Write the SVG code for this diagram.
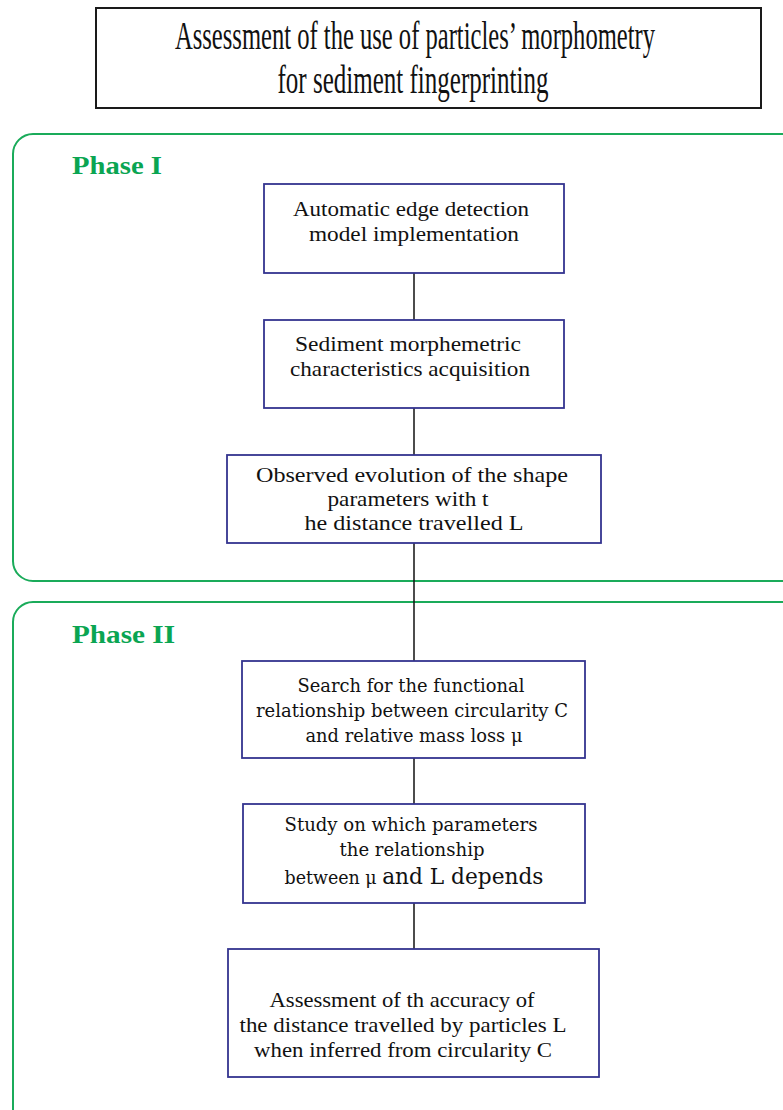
<svg xmlns="http://www.w3.org/2000/svg" width="783" height="1110" viewBox="0 0 783 1110">
<style>
.panel{fill:none;stroke:#1aab5a;stroke-width:2}
.box{fill:#fff;stroke:#34348f;stroke-width:1.8}
.tbox{fill:#fff;stroke:#1a1a1a;stroke-width:2}
.phase{font-family:"Liberation Serif",serif;font-weight:bold;font-size:25px;fill:#0aa552}
.t{font-family:"Liberation Serif",serif;font-size:21px;fill:#111;text-anchor:middle}
.g{font-family:"DejaVu Serif",serif;font-size:18.5px;fill:#111;text-anchor:middle}
.big{font-size:23px}
.title{font-family:"Liberation Serif",serif;font-size:29px;fill:#111;text-anchor:middle}
.conn{stroke:#111;stroke-width:1.5;fill:none}
</style>
<rect width="783" height="1110" fill="#fff"/>
<g id="title">
<rect class="tbox" x="96" y="8" width="665" height="100"/>
<g transform="scale(1,1.35)">
<text class="title" x="415" y="36.3" textLength="480" lengthAdjust="spacingAndGlyphs">Assessment of the use of particles’ morphometry</text>
<text class="title" x="413" y="68.9" textLength="271" lengthAdjust="spacingAndGlyphs">for sediment fingerprinting</text>
</g>
</g>
<g id="phase1">
<rect class="panel" x="13" y="134" width="800" height="447" rx="20"/>
<text class="phase" x="72" y="174" textLength="90" lengthAdjust="spacingAndGlyphs">Phase I</text>
</g>
<g id="phase2">
<rect class="panel" x="13" y="602" width="800" height="560" rx="20"/>
<text class="phase" x="72" y="643" textLength="103" lengthAdjust="spacingAndGlyphs">Phase II</text>
</g>
<g id="connectors">
<line class="conn" x1="414" y1="273" x2="414" y2="320"/>
<line class="conn" x1="414" y1="408" x2="414" y2="455"/>
<line class="conn" x1="414" y1="543" x2="414" y2="661"/>
<line class="conn" x1="414" y1="758" x2="414" y2="804"/>
<line class="conn" x1="414" y1="903" x2="414" y2="949"/>
</g>
<g id="n1">
<rect class="box" x="264" y="184" width="300" height="89"/>
<text class="t" x="411" y="216" textLength="236" lengthAdjust="spacingAndGlyphs">Automatic edge detection</text>
<text class="t" x="414" y="241" textLength="210" lengthAdjust="spacingAndGlyphs">model implementation</text>
</g>
<g id="n2">
<rect class="box" x="264" y="320" width="300" height="88"/>
<text class="t" x="408" y="351" textLength="226" lengthAdjust="spacingAndGlyphs">Sediment morphemetric</text>
<text class="t" x="410" y="376" textLength="240" lengthAdjust="spacingAndGlyphs">characteristics acquisition</text>
</g>
<g id="n3">
<rect class="box" x="227" y="455" width="374" height="88"/>
<text class="t" x="412" y="482" textLength="312" lengthAdjust="spacingAndGlyphs">Observed evolution of the shape</text>
<text class="t" x="408" y="506" textLength="161" lengthAdjust="spacingAndGlyphs">parameters with t</text>
<text class="t" x="414" y="530" textLength="219" lengthAdjust="spacingAndGlyphs">he distance travelled L</text>
</g>
<g id="n4">
<rect class="box" x="242" y="661" width="343" height="97"/>
<text class="g" x="411" y="692" textLength="227" lengthAdjust="spacingAndGlyphs">Search for the functional</text>
<text class="g" x="412" y="717" textLength="312" lengthAdjust="spacingAndGlyphs">relationship between circularity C</text>
<text class="g" x="414" y="742" textLength="217" lengthAdjust="spacingAndGlyphs">and relative mass loss μ</text>
</g>
<g id="n5">
<rect class="box" x="243" y="804" width="342" height="99"/>
<text class="g" x="411" y="831" textLength="253" lengthAdjust="spacingAndGlyphs">Study on which parameters</text>
<text class="g" x="412" y="856" textLength="145" lengthAdjust="spacingAndGlyphs">the relationship</text>
<text class="g" x="414" y="884" textLength="259" lengthAdjust="spacingAndGlyphs">between μ <tspan class="big">and L depends</tspan></text>
</g>
<g id="n6">
<rect class="box" x="228" y="949" width="371" height="128"/>
<text class="t" x="402" y="1007" textLength="265" lengthAdjust="spacingAndGlyphs">Assessment of th accuracy of</text>
<text class="t" x="403" y="1032" textLength="327" lengthAdjust="spacingAndGlyphs">the distance travelled by particles L</text>
<text class="t" x="403" y="1057" textLength="298" lengthAdjust="spacingAndGlyphs">when inferred from circularity C</text>
</g>
</svg>
